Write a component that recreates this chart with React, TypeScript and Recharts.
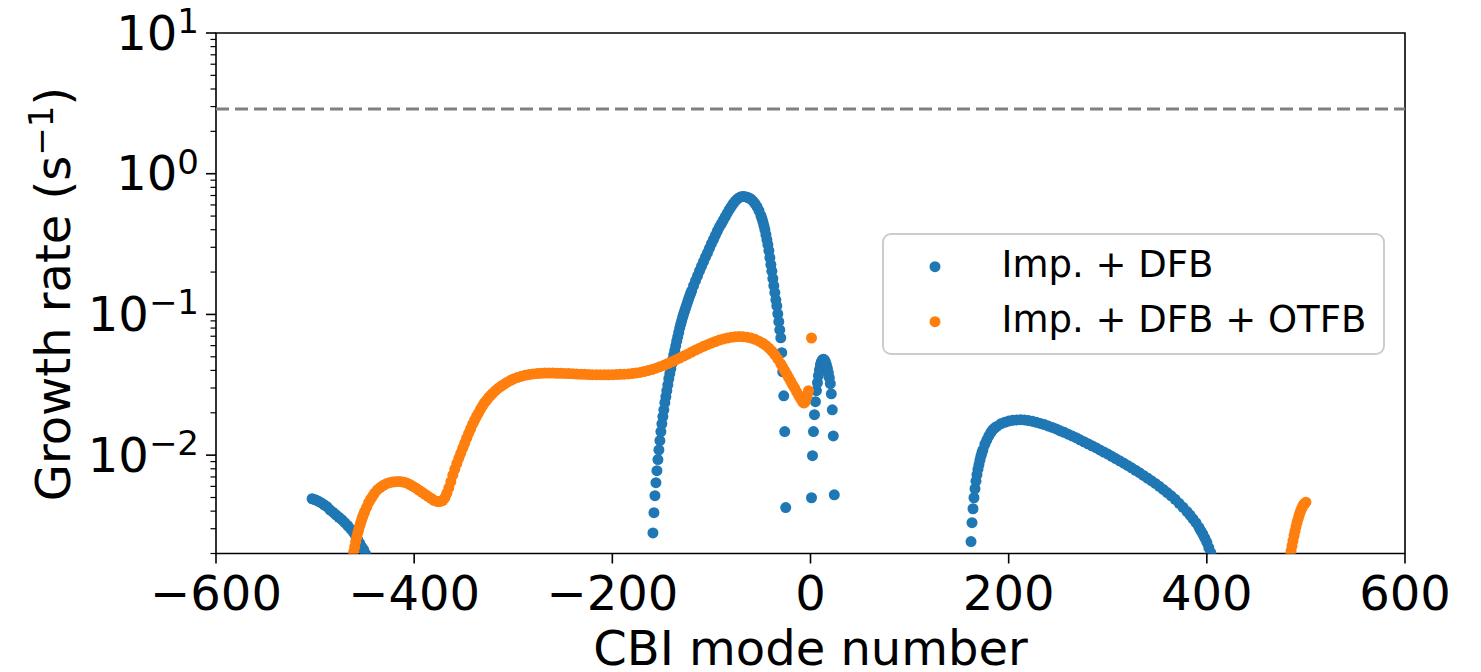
import { ScatterChart, Scatter, XAxis, YAxis, ReferenceLine, ReferenceArea, Legend } from "recharts"

// CBI growth rates: [mode number, growth rate in 1/s]
// "Imp. + DFB"
const dfbLeft: [number, number][] = [
  [-503, 0.0049], [-500, 0.00482], [-497, 0.00472], [-494, 0.00459], [-491, 0.00444], [-488, 0.0043],
  [-485, 0.00409], [-482, 0.00393], [-479, 0.00377], [-476, 0.00362], [-473, 0.00348], [-470, 0.00331],
  [-467, 0.00315], [-464, 0.00298], [-461, 0.00281], [-459, 0.00265], [-457, 0.00251], [-455, 0.00237],
  [-453, 0.00223], [-451, 0.00213], [-449, 0.00199], [-447, 0.00187],
]

const dfbPeak: [number, number][] = [
  [-159, 0.0028], [-158, 0.0039], [-157, 0.00515], [-156, 0.00637], [-155, 0.00775], [-154, 0.0093],
  [-153, 0.0109], [-152, 0.0127], [-151, 0.0147], [-150, 0.0167], [-149, 0.0188], [-148, 0.021],
  [-147, 0.0236], [-146, 0.026], [-145, 0.0287], [-144, 0.0316], [-143, 0.0349], [-142, 0.0379],
  [-141, 0.0411], [-140, 0.0446], [-139, 0.048], [-138, 0.0516], [-137, 0.0556], [-136, 0.0598],
  [-135, 0.0645], [-134, 0.0693], [-133, 0.0745], [-132, 0.08], [-131, 0.085], [-130, 0.09],
  [-129, 0.0955], [-128, 0.101], [-127, 0.106], [-126, 0.1115], [-125, 0.117], [-124, 0.123],
  [-123, 0.129], [-122, 0.135], [-121, 0.141], [-120, 0.147], [-118, 0.16], [-116, 0.174],
  [-114, 0.188], [-112, 0.204], [-110, 0.22], [-108, 0.237], [-106, 0.255], [-104, 0.274],
  [-102, 0.295], [-100, 0.318], [-98, 0.34], [-96, 0.365], [-94, 0.391], [-92, 0.418],
  [-90, 0.441], [-88, 0.467], [-86, 0.495], [-84, 0.524], [-82, 0.555], [-80, 0.583],
  [-78, 0.612], [-76, 0.638], [-74, 0.659], [-72, 0.676], [-70, 0.687], [-68, 0.69],
  [-66, 0.687], [-64, 0.681], [-62, 0.672], [-60, 0.659], [-58, 0.638], [-56, 0.612],
  [-54, 0.583], [-52, 0.546], [-50, 0.503], [-49, 0.48], [-48, 0.455], [-47, 0.427],
  [-46, 0.4], [-45, 0.369], [-44, 0.34], [-43, 0.313], [-42, 0.284], [-41, 0.253],
  [-40, 0.226], [-39, 0.203], [-38, 0.18], [-37, 0.16], [-36, 0.143], [-35, 0.127],
  [-34, 0.115], [-33, 0.101], [-32, 0.0888], [-31, 0.0776], [-30, 0.0682], [-29, 0.0535],
  [-28, 0.0391], [-27, 0.0264], [-26, 0.0147], [-25, 0.00424],
]

const dfbCentre: [number, number][] = [
  [1, 0.00498], [2, 0.00991], [3, 0.0147], [4, 0.0194], [5, 0.024], [6, 0.0287], [7, 0.0327],
  [8, 0.0367], [9, 0.0404], [10, 0.0439], [11, 0.0461], [12, 0.0476], [13, 0.048], [14, 0.0476],
  [15, 0.0461], [16, 0.0439], [17, 0.0415], [18, 0.0385], [19, 0.0355], [20, 0.0322], [21, 0.0273],
  [22, 0.021], [23, 0.0137], [24, 0.00522],
]

const dfbRight: [number, number][] = [
  [162, 0.00243], [163, 0.00331], [164, 0.00416], [165, 0.00498], [166, 0.00577], [167, 0.00653],
  [168, 0.00726], [169, 0.00794], [170, 0.00855], [171, 0.0092], [172, 0.00982], [173, 0.0104],
  [174, 0.0109], [176, 0.01195], [178, 0.01285], [180, 0.01372], [182, 0.0145], [184, 0.01515],
  [186, 0.01565], [188, 0.016], [192, 0.0167], [196, 0.0171], [200, 0.01747], [204, 0.0177],
  [208, 0.0178], [212, 0.01785], [216, 0.0178], [220, 0.0176], [224, 0.0174], [228, 0.0171],
  [232, 0.0168], [236, 0.0165], [240, 0.0161], [244, 0.01575], [248, 0.01535], [252, 0.0149],
  [256, 0.01453], [260, 0.0141], [264, 0.0137], [268, 0.0133], [272, 0.01285], [276, 0.01245],
  [280, 0.01205], [284, 0.01166], [288, 0.0113], [292, 0.0109], [296, 0.01053], [300, 0.01017],
  [304, 0.00981], [308, 0.00946], [312, 0.00911], [316, 0.00878], [320, 0.00845], [324, 0.00812],
  [328, 0.00781], [332, 0.0075], [336, 0.00718], [340, 0.00688], [344, 0.00659], [348, 0.0063],
  [352, 0.006], [356, 0.00571], [360, 0.00542], [364, 0.00514], [368, 0.00485], [372, 0.00455],
  [376, 0.00426], [380, 0.00397], [383, 0.00375], [386, 0.00353], [389, 0.00331], [392, 0.00307],
  [394, 0.0029], [396, 0.00274], [398, 0.00257], [400, 0.0024], [402, 0.0022], [404, 0.00203],
  [406, 0.00187],
]

// "Imp. + DFB + OTFB"
const otfbMain: [number, number][] = [
  [-462, 0.0019], [-461, 0.00206], [-460, 0.00223], [-459, 0.00243], [-458, 0.00261], [-457, 0.00279],
  [-456, 0.00295], [-455, 0.00313], [-454, 0.00331], [-453, 0.00348], [-452, 0.00365], [-451, 0.0038],
  [-450, 0.00396], [-448, 0.00426], [-446, 0.00459], [-444, 0.00486], [-442, 0.0051], [-440, 0.00536],
  [-437, 0.00568], [-434, 0.00591], [-431, 0.00611], [-428, 0.00627], [-425, 0.00637], [-422, 0.00644],
  [-419, 0.00648], [-416, 0.0065], [-413, 0.00648], [-410, 0.00641], [-407, 0.00632], [-404, 0.00616],
  [-401, 0.00599], [-398, 0.00582], [-395, 0.00563], [-392, 0.00545], [-389, 0.00527], [-386, 0.0051],
  [-383, 0.00494], [-380, 0.00478], [-377, 0.00469], [-375, 0.00467], [-373, 0.00471], [-371, 0.00478],
  [-369, 0.00498], [-367, 0.00536], [-365, 0.00586], [-363, 0.00648], [-361, 0.0072], [-359, 0.00794],
  [-357, 0.00869], [-355, 0.0095], [-353, 0.0103], [-351, 0.0112], [-349, 0.01215], [-347, 0.0132],
  [-345, 0.0143], [-343, 0.0154], [-341, 0.0166], [-339, 0.0177], [-337, 0.0189], [-335, 0.02],
  [-333, 0.0212], [-331, 0.0224], [-329, 0.0236], [-327, 0.0245], [-325, 0.0256], [-323, 0.0265],
  [-321, 0.0274], [-318, 0.0287], [-315, 0.0299], [-312, 0.031], [-309, 0.032], [-306, 0.033],
  [-303, 0.0339], [-300, 0.0347], [-296, 0.0356], [-292, 0.0363], [-288, 0.0369], [-284, 0.0374],
  [-280, 0.0378], [-276, 0.038], [-272, 0.0382], [-268, 0.0383], [-264, 0.0383], [-260, 0.0383],
  [-256, 0.0382], [-252, 0.0382], [-248, 0.0381], [-244, 0.038], [-240, 0.0379], [-236, 0.0377],
  [-232, 0.0376], [-228, 0.0375], [-224, 0.0374], [-220, 0.0373], [-216, 0.0372], [-212, 0.0372],
  [-208, 0.0372], [-204, 0.0372], [-200, 0.0373], [-196, 0.0374], [-192, 0.0375], [-188, 0.0376],
  [-184, 0.0378], [-180, 0.038], [-176, 0.0384], [-172, 0.0387], [-168, 0.0393], [-164, 0.0399],
  [-160, 0.0406], [-156, 0.0415], [-152, 0.0425], [-148, 0.0435], [-144, 0.0448], [-140, 0.0461],
  [-136, 0.0475], [-132, 0.049], [-128, 0.0506], [-124, 0.0522], [-120, 0.054], [-116, 0.0558],
  [-112, 0.0576], [-108, 0.0593], [-104, 0.061], [-100, 0.0626], [-96, 0.0642], [-92, 0.0657],
  [-88, 0.067], [-84, 0.068], [-80, 0.0688], [-76, 0.0694], [-72, 0.0696], [-68, 0.0695],
  [-64, 0.0689], [-60, 0.0679], [-56, 0.0665], [-52, 0.0646], [-48, 0.0623], [-45, 0.0602],
  [-42, 0.0577], [-39, 0.0549], [-36, 0.0516], [-33, 0.0482], [-30, 0.0446], [-28, 0.0421],
  [-26, 0.0398], [-24, 0.0376], [-22, 0.0355], [-20, 0.0335], [-18, 0.0316], [-16, 0.0299],
  [-14, 0.0282], [-12, 0.0266], [-10, 0.0252], [-8, 0.024], [-7, 0.0235], [-6, 0.0236],
  [-5, 0.0244], [-4, 0.0256], [-3, 0.0271], [-2, 0.0287],
]

const otfbZero: [number, number][] = [[1, 0.068]]

const otfbRight: [number, number][] = [
  [484, 0.00194], [485, 0.00209], [486, 0.00227], [487, 0.00247], [488, 0.00268], [489, 0.00288],
  [490, 0.0031], [491, 0.00331], [492, 0.0035], [493, 0.00371], [494, 0.0039], [495, 0.00406],
  [496, 0.00421], [497, 0.00437], [498, 0.00448], [499, 0.00455], [500, 0.00463],
]

const thresholdRate = 2.88

const xDomain = [-600, 600]
const yDomain = [0.002, 10]
const xTicks = [-600, -400, -200, 0, 200, 400, 600]
const yMajorTicks = [0.01, 0.1, 1, 10]
const yMinorTicks = [
  0.002, 0.003, 0.004, 0.005, 0.006, 0.007, 0.008, 0.009,
  0.02, 0.03, 0.04, 0.05, 0.06, 0.07, 0.08, 0.09,
  0.2, 0.3, 0.4, 0.5, 0.6, 0.7, 0.8, 0.9,
  2, 3, 4, 5, 6, 7, 8, 9,
]

const toPoints = (rows: [number, number][]) => rows.map(([mode, rate]) => ({ mode, rate }))
const dfbData = toPoints([...dfbLeft, ...dfbPeak, ...dfbCentre, ...dfbRight])
const otfbData = toPoints([...otfbMain, ...otfbZero, ...otfbRight])

const BLUE = "#1f77b4"
const ORANGE = "#ff7f0e"
const FONT = "DejaVu Sans"

const minus = (s: string) => s.replace("-", "\u2212")

function Dot(color: string) {
  return (props: any) => <circle cx={props.cx} cy={props.cy} r={5.5} fill={color} />
}

function XTick({ x, y, payload }: any) {
  return (
    <g>
      <line x1={x} x2={x} y1={y} y2={y + 10} stroke="#000" strokeWidth={1.6} />
      <text x={x} y={y + 56.5} textAnchor="middle" fontSize={48} fontFamily={FONT} fill="#000">
        {minus(String(payload.value))}
      </text>
    </g>
  )
}

function YTick({ x, y, payload }: any) {
  const v = payload.value
  const major = yMajorTicks.includes(v)
  const exp = Math.round(Math.log10(v))
  return (
    <g>
      <line x1={x - (major ? 10 : 5.5)} x2={x} y1={y} y2={y} stroke="#000" strokeWidth={major ? 1.6 : 1.2} />
      {major && (
        <text x={x - 17} y={y + 16.5} textAnchor="end" fontSize={48} fontFamily={FONT} fill="#000">
          10
          <tspan dy={-16.5} fontSize={34}>{minus(String(exp))}</tspan>
        </text>
      )}
    </g>
  )
}

function XTitle() {
  return (
    <text x={810.5} y={665} textAnchor="middle" fontSize={48} fontFamily={FONT} fill="#000">
      CBI mode number
    </text>
  )
}

function YTitle() {
  return (
    <text x={70} y={294} transform="rotate(-90 70 294)" textAnchor="middle" fontSize={48} fontFamily={FONT} fill="#000">
      Growth rate (s
      <tspan dy={-17} fontSize={34}>{"\u22121"}</tspan>
      <tspan dy={17}>)</tspan>
    </text>
  )
}

function LegendBox({ payload }: any) {
  return (
    <svg width={503} height={122} style={{ display: "block" }}>
      <rect x={1} y={1} width={501} height={120} rx={8} fill="#fff" fillOpacity={0.8} stroke="#cccccc" strokeWidth={2} />
      {(payload || []).map((item: any, i: number) => (
        <g key={item.value}>
          <circle cx={53} cy={33.7 + i * 55} r={5.5} fill={item.color} />
          <text x={119.5} y={44 + i * 55} fontSize={37} fontFamily={FONT} fill="#000">
            {item.value}
          </text>
        </g>
      ))}
    </svg>
  )
}

export default function App() {
  return (
    <div style={{ position: "absolute", left: 0, top: 0, width: 1481, height: 672, background: "#fff" }}>
      <ScatterChart width={1481} height={672} margin={{ top: 33, right: 76, left: 0, bottom: 0 }}>
        <XAxis
          dataKey="mode"
          type="number"
          domain={xDomain}
          ticks={xTicks}
          interval={0}
          allowDataOverflow
          axisLine={false}
          tickLine={false}
          tickSize={0}
          tickMargin={0}
          height={118.5}
          tick={<XTick />}
          label={<XTitle />}
        />
        <YAxis
          dataKey="rate"
          type="number"
          scale="log"
          domain={yDomain}
          ticks={[...yMinorTicks, ...yMajorTicks].sort((a, b) => a - b)}
          interval={0}
          allowDataOverflow
          axisLine={false}
          tickLine={false}
          tickSize={0}
          tickMargin={0}
          width={216}
          tick={<YTick />}
          label={<YTitle />}
        />
        <ReferenceLine y={thresholdRate} stroke="#808080" strokeWidth={3} strokeDasharray="13 6" />
        <Scatter name="Imp. + DFB" data={dfbData} fill={BLUE} shape={Dot(BLUE)} isAnimationActive={false} />
        <Scatter name="Imp. + DFB + OTFB" data={otfbData} fill={ORANGE} shape={Dot(ORANGE)} isAnimationActive={false} />
        <ReferenceArea x1={xDomain[0]} x2={xDomain[1]} y1={yDomain[0]} y2={yDomain[1]} fill="none" stroke="#000" strokeWidth={1.6} />
        <Legend
          layout="vertical"
          align="center"
          verticalAlign="middle"
          width={503}
          height={122}
          wrapperStyle={{ left: 882, top: 233 }}
          content={<LegendBox />}
        />
      </ScatterChart>
    </div>
  )
}
